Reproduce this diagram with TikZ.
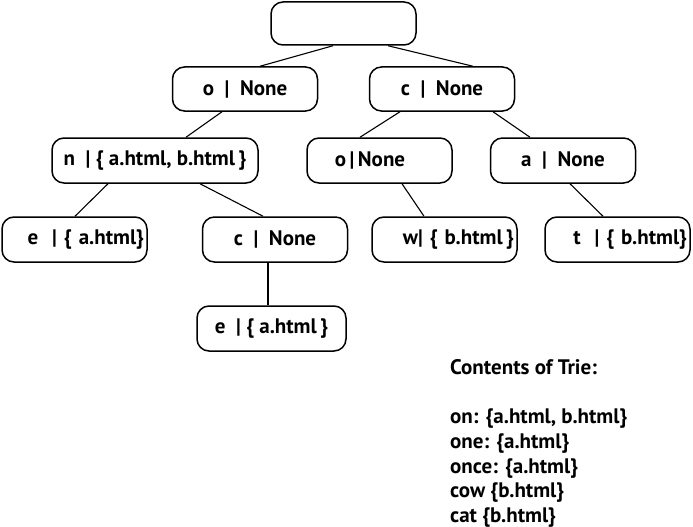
\documentclass[tikz,border=0pt]{standalone}
\usepackage{fontspec}
\setmainfont{PT Sans}
\usetikzlibrary{positioning}

\tikzset{
  trienode/.style={draw, line width=1.5pt, rounded corners=12pt, minimum width=145pt,
    minimum height=44pt, inner sep=2pt, font=\bfseries\fontsize{21}{24}\selectfont},
  leafright/.style={trienode, text width=139pt, align=right},
  trieedge/.style={line width=1.1pt}
}

\begin{document}
\begin{tikzpicture}[x=1pt, y=-1pt]
\useasboundingbox (0,0) rectangle (693,527);
% the trie
\node [trienode, minimum height=43pt] (root) at (343.5, 23.5) {};
\node [trienode] (o) at (245, 89) {o \ | \ None};
\node [trienode] (c) at (442, 89) {c \ | \ None};
\node [trienode, minimum width=206pt, minimum height=45pt] (n) at (155, 160.5) {n \ | \{ a.html, b.html\,\}};
\node [trienode, minimum height=45pt] (oo) at (379.5, 160.5) {o\,|\,None\kern19pt};
\node [trienode, minimum height=45pt] (a) at (563, 160.5) {a \ | \ None};
\node [leafright, minimum height=45pt] (e) at (74.5, 239.5) {e \ | \{ a.html\}};
\node [trienode, minimum height=45pt] (cc) at (275, 239.5) {c \ | \ None};
\node [leafright, minimum height=45pt] (w) at (444.5, 239.5) {w| \{ b.html\,\}};
\node [leafright, minimum height=45pt] (t) at (617.5, 239.5) {t \ | \{ b.html\}};
\node [trienode, minimum width=149pt, minimum height=45pt] (ee) at (271.5, 328.5) {e \ | \{ a.html\,\}};
% edges
\draw [trieedge] ([xshift=-10.5pt]root.south) -- ([xshift=15pt]o.north);
\draw [trieedge] ([xshift=44.5pt]root.south) -- ([xshift=31pt]c.north);
\draw [trieedge] ([xshift=-23pt]o.south) -- ([xshift=31pt]n.north);
\draw [trieedge] ([xshift=-42pt]c.south) -- ([xshift=-19.5pt]oo.north);
\draw [trieedge] ([xshift=51pt]c.south) -- ([xshift=-33pt]a.north);
\draw [trieedge] ([xshift=-47pt]n.south) -- ([xshift=0.5pt]e.north);
\draw [trieedge] ([xshift=45pt]n.south) -- ([xshift=-12pt]cc.north);
\draw [trieedge] ([xshift=22.5pt]oo.south) -- ([xshift=-20.5pt]w.north);
\draw [trieedge] ([xshift=7pt]a.south) -- ([xshift=-14.5pt]t.north);
\draw [trieedge] ([xshift=-7pt]cc.south) -- ([xshift=-3.5pt]ee.north);
% contents
\node [anchor=north west, align=left, inner sep=0pt, font=\bfseries\fontsize{21}{24.7}\selectfont] (contents) at (450, 359)
  {Contents of Trie:\\[24.7pt]
   on: \{a.html, b.html\}\\
   one: \{a.html\}\\
   once: \{a.html\}\\
   cow \{b.html\}\\
   cat \{b.html\}};
\end{tikzpicture}
\end{document}
